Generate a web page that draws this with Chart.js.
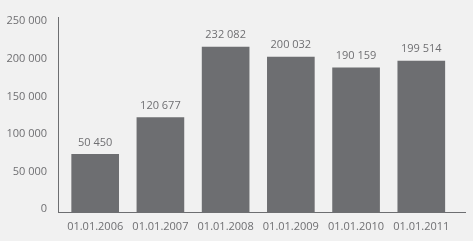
<!DOCTYPE html>
<html lang="ru">
<head>
  <meta charset="UTF-8">
  <title>Bars</title>
  <script src="https://cdn.jsdelivr.net/npm/chart.js"></script>
  <style>
    html, body {
      margin: 0;
      padding: 0;
      background-color: #f1f1f1;
    }
    .chart-container {
      width: 473px;
      height: 241px;
    }
  </style>
</head>
<body>
  <div class="chart-container">
    <canvas id="chart"></canvas>
  </div>

  <script>
    // dates under the bars
    const categories = ['01.01.2006', '01.01.2007', '01.01.2008', '01.01.2009', '01.01.2010', '01.01.2011'];
    // bar heights as drawn in the picture
    const barValues = [76700, 125700, 219600, 206300, 192200, 201000];
    // numbers printed above the bars
    const valueLabels = ['50 450', '120 677', '232 082', '200 032', '190 159', '199 514'];
    const yTicks = [0, 50000, 100000, 150000, 200000, 250000];

    const textColor = '#6f6f72';
    const barColor = '#6d6e71';

    const valueLabelPlugin = {
      id: 'valueLabels',
      afterDatasetsDraw(chart) {
        const ctx = chart.ctx;
        const meta = chart.getDatasetMeta(0);
        ctx.save();
        ctx.font = '11px "Open Sans"';
        ctx.fillStyle = textColor;
        ctx.textAlign = 'center';
        ctx.textBaseline = 'middle';
        meta.data.forEach((bar, i) => {
          ctx.fillText(valueLabels[i], bar.x, bar.y - 12);
        });
        ctx.restore();
      }
    };

    const ctx = document.getElementById('chart').getContext('2d');
    new Chart(ctx, {
      type: 'bar',
      data: {
        datasets: [{
          data: barValues.map((v, i) => ({ x: i, y: v })),
          backgroundColor: barColor,
          barThickness: 47
        }]
      },
      options: {
        responsive: true,
        maintainAspectRatio: false,
        animation: false,
        layout: {
          padding: { top: 16, right: 8, left: 0, bottom: 0 }
        },
        plugins: {
          legend: { display: false },
          tooltip: { enabled: false }
        },
        scales: {
          x: {
            type: 'linear',
            offset: false,
            bounds: 'data',
            min: -0.57,
            max: 5.67,
            afterBuildTicks: function(scale) {
              scale.ticks = categories.map((c, i) => ({ value: i }));
            },
            afterFit: function(scale) {
              scale.height = 29;
            },
            grid: { display: false, drawTicks: false },
            border: { display: true, color: barColor, width: 1 },
            ticks: {
              padding: 8,
              color: textColor,
              font: { family: 'Open Sans', size: 11 },
              maxRotation: 0,
              autoSkip: false,
              callback: function(value) {
                return categories[value];
              }
            }
          },
          y: {
            min: 0,
            max: 259000,
            afterBuildTicks: function(scale) {
              scale.ticks = yTicks.map(v => ({ value: v }));
            },
            afterFit: function(scale) {
              scale.width = 58;
            },
            grid: { display: false, drawTicks: false },
            border: { display: true, color: barColor, width: 1 },
            ticks: {
              padding: 11,
              labelOffset: -3,
              color: textColor,
              font: { family: 'Open Sans', size: 11 },
              callback: function(value) {
                return value === 0 ? '0' : (value / 1000) + ' 000';
              }
            }
          }
        }
      },
      plugins: [valueLabelPlugin]
    });
  </script>
</body>
</html>
